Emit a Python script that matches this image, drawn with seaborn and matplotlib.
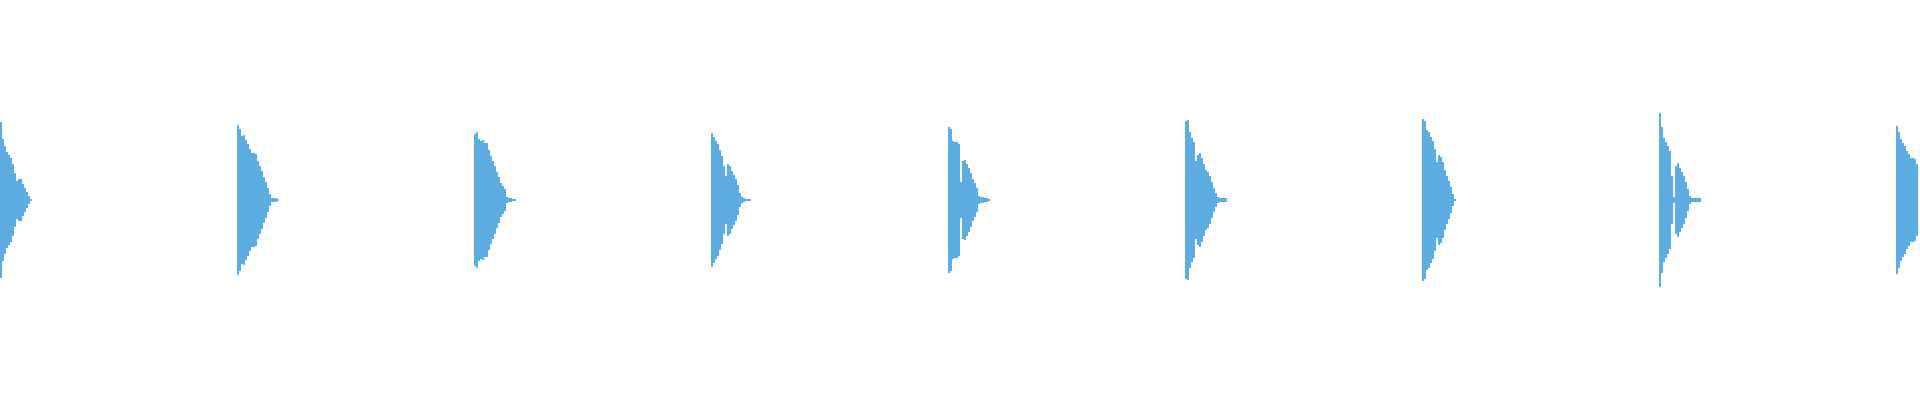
import numpy as np
import matplotlib
matplotlib.use('Agg')
import matplotlib.pyplot as plt
import seaborn as sns

# Onset time of each hit (seconds) and the time span shown
onsets = [0.0, 0.5, 1.0, 1.5, 2.0, 2.5, 3.0, 3.5, 4.0]
t_end = 4.05

# Envelope step between amplitude readings (seconds)
env_step = 0.0042

# Peak amplitude (% of full scale) after each onset, one list per hit
env_1 = [39.0, 30.5, 26.9, 24.0, 22.5, 21.0, 18.0, 13.5, 9.7, 10.5, 10.5, 8.0, 5.9, 3.9, 2.2, 0.5, 0.0]
env_2 = [37.5, 35.4, 32.0, 32.5, 29.9, 27.9, 25.4, 23.7, 23.7, 22.9, 19.5, 17.0, 14.5, 11.7, 9.0, 6.2,
         2.9, 1.2, 1.2, 0.9, 0.5, 0.3]
env_3 = [33.0, 33.9, 30.5, 29.7, 30.2, 28.5, 28.5, 25.0, 21.9, 19.7, 16.9, 13.9, 11.4, 8.5, 7.2, 5.5,
         1.4, 1.0, 1.0, 0.5, 0.3, 0.2]
env_4 = [33.5, 31.4, 29.7, 28.0, 25.0, 22.2, 16.9, 12.0, 18.0, 17.2, 14.7, 12.5, 10.5, 7.5, 3.5, 1.4,
         0.9, 0.5, 0.5, 0.4, 0.2]
env_5 = [36.5, 35.5, 29.7, 28.9, 29.2, 28.0, 9.2, 19.7, 20.0, 18.0, 15.9, 13.5, 10.5, 8.5, 5.9, 1.9,
         1.4, 1.4, 1.0, 1.0, 0.5, 0.2]
env_6 = [39.5, 40.0, 34.2, 30.9, 28.9, 19.7, 22.7, 23.4, 20.9, 18.0, 15.2, 13.9, 11.9, 8.9, 5.9, 3.5,
         1.4, 1.0, 1.0, 1.0, 0.8, 0.3]
env_7 = [40.5, 39.7, 35.2, 33.9, 31.7, 29.7, 25.5, 19.0, 22.7, 21.4, 18.9, 15.2, 12.2, 9.7, 6.4, 3.0,
         0.5, 0.0]
env_8 = [43.5, 36.4, 30.9, 29.2, 26.9, 24.7, 11.9, 1.5, 17.2, 18.5, 15.9, 13.9, 11.9, 8.9, 5.5, 2.2,
         1.0, 1.0, 1.0, 1.0, 0.8, 0.3]
env_9 = [37.0, 34.2, 30.4, 28.7, 27.0, 24.5, 22.9, 20.9, 20.9, 20.4, 18.2, 14.0]

envelopes = [env_1, env_2, env_3, env_4, env_5, env_6, env_7, env_8, env_9]

wave_color = '#5DADE2'

sns.set_theme(style="white")
fig = plt.figure(figsize=(19.2, 4), dpi=100)
ax = fig.add_axes([0, 0, 1, 1])

# Draw each hit as a mirrored filled envelope
for onset, env in zip(onsets, envelopes):
    amp = np.array(env)
    t = onset + env_step * np.arange(len(amp))
    ax.fill_between(t, -amp, amp, step='post', color=wave_color, linewidth=0)

ax.set_xlim(0, t_end)
ax.set_ylim(-100, 100)
ax.axis('off')

fig.savefig("out.png", dpi=100, facecolor='white')
plt.close(fig)
